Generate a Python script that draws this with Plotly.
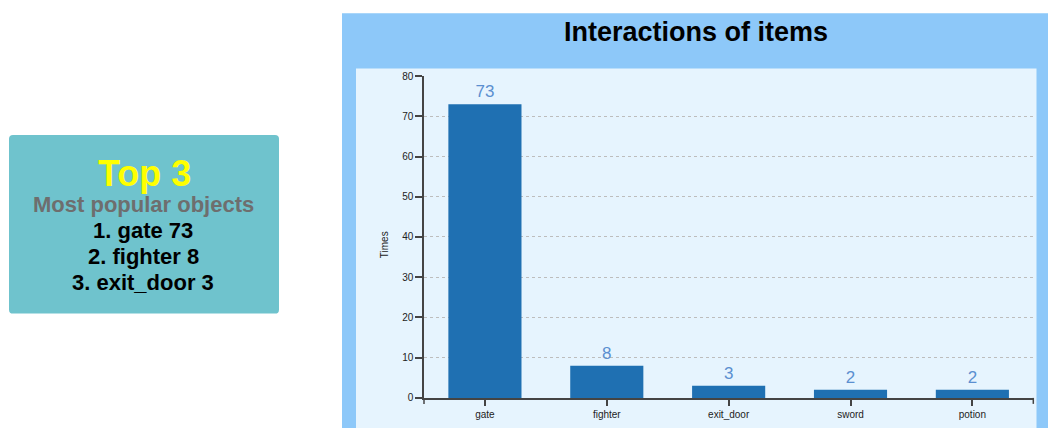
import plotly.graph_objects as go

# Interaction counts per item
items = ["gate", "fighter", "exit_door", "sword", "potion"]
times = [73, 8, 3, 2, 2]
y_ticks = [0, 10, 20, 30, 40, 50, 60, 70, 80]

W, H = 1048, 440
FONT = "Liberation Sans, Arial, sans-serif"

# vertical layout positions are given in screen pixels and converted here
Y_SCALE, Y_OFF = 0.977, 3.8


def px(x):
    return x / W


def py(y):
    return 1 - ((y - Y_OFF) / Y_SCALE) / H


# Top-3 summary built from the same data
ranked = sorted(zip(items, times), key=lambda t: -t[1])[:3]
top_lines = [f"{i + 1}. {name} {val}" for i, (name, val) in enumerate(ranked)]

fig = go.Figure(
    go.Bar(
        x=items,
        y=times,
        marker=dict(color="#1f70b2", line=dict(width=0)),
        text=times,
        texttemplate="%{text}",
        textposition="outside",
        textfont=dict(color="#5b8fd0", size=17, family=FONT),
        cliponaxis=False,
        hoverinfo="x+y",
    )
)

plot_left, plot_right = 424, 1033.3
plot_top, plot_bottom = 74, 396.5


def rounded_rect(x0, y0, x1, y1, r):
    X0, X1 = px(x0), px(x1)
    Y0, Y1 = py(y0), py(y1)
    rx, ry = r / W, r / H
    return (
        f"M {X0 + rx},{Y0} L {X1 - rx},{Y0} Q {X1},{Y0} {X1},{Y0 - ry} "
        f"L {X1},{Y1 + ry} Q {X1},{Y1} {X1 - rx},{Y1} "
        f"L {X0 + rx},{Y1} Q {X0},{Y1} {X0},{Y1 + ry} "
        f"L {X0},{Y0 - ry} Q {X0},{Y0} {X0 + rx},{Y0} Z"
    )


shapes = [
    # summary card
    dict(type="path", path=rounded_rect(9, 133, 279, 312, 4), xref="paper", yref="paper",
         fillcolor="#6fc3cd", line=dict(width=0), layer="below"),
    # chart panel
    dict(type="rect", xref="paper", yref="paper", x0=px(342), x1=px(1048), y0=0, y1=py(11),
         fillcolor="#8dc8f9", line=dict(width=0), layer="below"),
    dict(type="rect", xref="paper", yref="paper", x0=px(356), x1=px(1036.5), y0=0, y1=py(66.5),
         fillcolor="#e6f4fe", line=dict(width=0), layer="below"),
    # outer end ticks of the category axis
    dict(type="line", xref="paper", yref="paper", x0=px(plot_right), x1=px(plot_right),
         y0=py(plot_bottom), y1=py(plot_bottom + 6), line=dict(color="#444", width=1.5)),
    dict(type="line", xref="paper", yref="paper", x0=px(plot_left), x1=px(plot_left),
         y0=py(plot_bottom), y1=py(plot_bottom + 6), line=dict(color="#444", width=1.5)),
]

annotations = [
    dict(text="<b>Interactions of items</b>", x=px(696), y=py(30), xref="paper", yref="paper",
         showarrow=False, font=dict(size=27, color="#000", family=FONT), xanchor="center", yanchor="middle"),
    dict(text="<b>Top 3</b>", x=px(144), y=py(172), xref="paper", yref="paper",
         showarrow=False, font=dict(size=36, color="#ffff00", family=FONT), xanchor="center", yanchor="middle"),
    dict(text="<b>Most popular objects</b>", x=px(143), y=py(203), xref="paper", yref="paper",
         showarrow=False, font=dict(size=22, color="#6e6e6e", family=FONT), xanchor="center", yanchor="middle"),
    dict(text="Times", x=px(384.5), y=py(243), xref="paper", yref="paper", textangle=-90,
         showarrow=False, font=dict(size=10, color="#222", family=FONT), xanchor="center", yanchor="middle"),
]
for k, line in enumerate(top_lines):
    annotations.append(
        dict(text=f"<b>{line}</b>", x=px(143), y=py(229 + k * 25.8), xref="paper", yref="paper",
             showarrow=False, font=dict(size=22, color="#000", family=FONT), xanchor="center", yanchor="middle")
    )

fig.update_layout(
    width=W,
    height=H,
    margin=dict(l=0, r=0, t=0, b=0),
    paper_bgcolor="#ffffff",
    plot_bgcolor="rgba(0,0,0,0)",
    showlegend=False,
    bargap=0.4,
    font=dict(family=FONT, color="#222"),
    shapes=shapes,
    annotations=annotations,
    xaxis=dict(
        domain=[px(plot_left), px(plot_right)],
        type="category",
        range=[-0.5, len(items) - 0.5],
        showline=True, linecolor="#444", linewidth=1.5,
        ticks="outside", ticklen=6, tickcolor="#444", tickwidth=1.5,
        tickfont=dict(size=10, color="#222"),
        showgrid=False, zeroline=False, fixedrange=True,
    ),
    yaxis=dict(
        domain=[py(plot_bottom), py(plot_top)],
        range=[0, 80],
        tickvals=y_ticks,
        showline=True, linecolor="#444", linewidth=1.5,
        ticks="outside", ticklen=7, tickcolor="#444", tickwidth=1.5,
        tickfont=dict(size=10, color="#222"),
        showgrid=True, gridcolor="#bdbdbd", gridwidth=1, griddash="3px,3px",
        zeroline=False, fixedrange=True,
    ),
)

fig.write_html("out.html")
